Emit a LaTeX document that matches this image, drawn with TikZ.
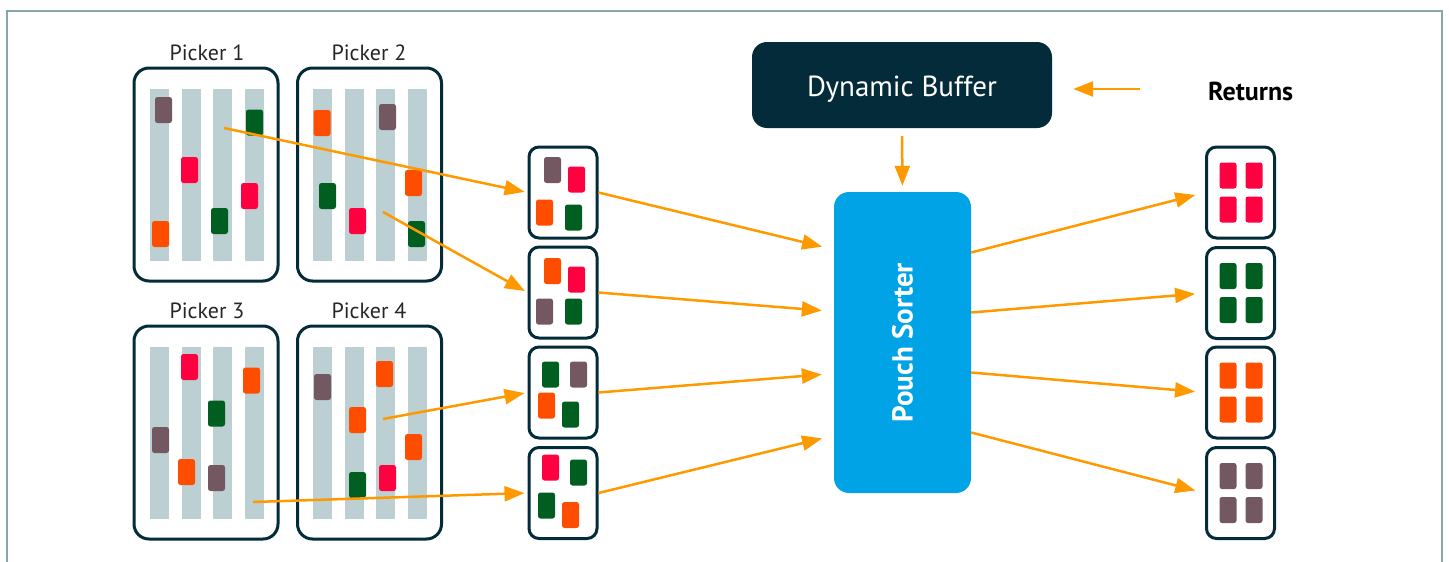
\documentclass[tikz,border=0pt]{standalone}
\usepackage{fontspec}
\setmainfont{PT Sans}
\usetikzlibrary{arrows.meta,calc}
\definecolor{navy}{HTML}{032B3A}
\definecolor{framec}{HTML}{86A6A8}
\definecolor{stripc}{HTML}{BCCFD3}
\definecolor{cred}{HTML}{FF0040}
\definecolor{cgreen}{HTML}{005F20}
\definecolor{corange}{HTML}{FF4D00}
\definecolor{cmauve}{HTML}{735761}
\definecolor{arrc}{HTML}{FF9900}
\definecolor{sortc}{HTML}{00A3E5}
\newcommand\itm[3]{\fill[#1,rounded corners=2.5pt] ({#2-8.5},{#3-13}) rectangle ++(17,26);}
\newcommand\strips[2]{\foreach \sx in {0,31.5,63,95}{\fill[stripc] ({#1+\sx},#2) rectangle ++(19,172);}}
\begin{document}
\begin{tikzpicture}[x=1pt,y=-1pt,
  picker/.style={draw=navy,line width=3pt,rounded corners=15pt,minimum width=144pt,minimum height=213pt,inner sep=0pt},
  pouch/.style={draw=navy,line width=3pt,rounded corners=10pt,minimum width=68pt,minimum height=91pt,inner sep=0pt},
  lbl/.style={font=\fontsize{22}{26}\selectfont,text=black!85},
  arr/.style={draw=arrc,line width=2.5pt,-{Triangle[length=20pt,width=15pt]}},
]
\useasboundingbox (0,0) rectangle (1449,562);
\draw[framec,line width=1.5pt] (7,562) -- (7,11) -- (1442,11) -- (1442,562);

% pickers
\node[picker] (p1) at (206,174.5) {};
\node[picker] (p2) at (369.5,174.5) {};
\node[picker] (p3) at (206,432.5) {};
\node[picker] (p4) at (369.5,432.5) {};
\node[lbl] (l1) at (207,53) {Picker 1};
\node[lbl] (l2) at (369,53) {Picker 2};
\node[lbl] (l3) at (207,311) {Picker 3};
\node[lbl] (l4) at (369,311) {Picker 4};

\strips{150}{89}\strips{313}{89}
\strips{150}{347}\strips{313}{347}

% picker 1 items
\itm{cmauve}{163.5}{110}
\itm{cgreen}{254.5}{122.5}
\itm{cred}{189.5}{170}
\itm{cred}{249.5}{196}
\itm{cgreen}{219.5}{221}
\itm{corange}{160.5}{234}
% picker 2
\itm{corange}{322}{123}
\itm{cmauve}{387.5}{117}
\itm{corange}{413.5}{183}
\itm{cgreen}{327.5}{196}
\itm{cred}{357.5}{221}
\itm{cgreen}{416.5}{234}
% picker 3
\itm{cred}{189.5}{367}
\itm{corange}{251.5}{380.5}
\itm{cgreen}{216.5}{413.5}
\itm{cmauve}{160.5}{440}
\itm{corange}{186.5}{472}
\itm{cmauve}{216.5}{478}
% picker 4
\itm{cmauve}{322.5}{387}
\itm{corange}{384.5}{374}
\itm{corange}{357.5}{420}
\itm{corange}{413.5}{447}
\itm{cgreen}{357.5}{485}
\itm{cred}{387.5}{478}

% pouches
\node[pouch] (q1) at (563,192.5) {};
\node[pouch] (q2) at (563,292.5) {};
\node[pouch] (q3) at (563,392.5) {};
\node[pouch] (q4) at (563,493) {};
\begin{scope}[shift={(563,192.5)}]
\itm{cmauve}{-10.5}{-22.5}\itm{cred}{13.5}{-13}\itm{corange}{-18.5}{20}\itm{cgreen}{10.5}{25}
\end{scope}
\begin{scope}[shift={(563,292.5)}]
\itm{corange}{-10.5}{-21.5}\itm{cred}{13.5}{-13}\itm{cmauve}{-18.5}{19}\itm{cgreen}{10.5}{19}
\end{scope}
\begin{scope}[shift={(563,392.5)}]
\itm{cgreen}{-12.5}{-18}\itm{cmauve}{15.5}{-18}\itm{corange}{-16.5}{13}\itm{cgreen}{7.5}{22}
\end{scope}
\begin{scope}[shift={(563,493)}]
\itm{cred}{-12.5}{-25.5}\itm{cgreen}{15.5}{-20.5}\itm{cgreen}{-16.5}{12.5}\itm{corange}{7.5}{22}
\end{scope}

% result boxes
\node[pouch] (r1) at (1240.5,192.5) {};
\node[pouch] (r2) at (1240.5,293) {};
\node[pouch] (r3) at (1240.5,392.5) {};
\node[pouch] (r4) at (1240.5,493) {};
\foreach \c/\yy in {cred/192.5,cgreen/293,corange/392.5,cmauve/493}{
  \begin{scope}[shift={(1240.5,\yy)}]
  \itm{\c}{-12.5}{-17}\itm{\c}{13.5}{-17}\itm{\c}{-12.5}{17}\itm{\c}{13.5}{17}
  \end{scope}
}

% sorter and buffer
\node[fill=sortc,rounded corners=15pt,minimum width=137pt,minimum height=301pt,inner sep=0pt] (sorter) at (902.5,342.5) {};
\node[rotate=90,text=white,font=\fontsize{29}{34}\selectfont\bfseries] (sl) at (sorter.center) {Pouch Sorter};
\node[fill=navy,rounded corners=15pt,minimum width=300pt,minimum height=86pt,inner sep=0pt] (buf) at (902,85) {};
\node[text=white,font=\fontsize{29}{34}\selectfont,anchor=base,inner sep=0pt] (bt) at (902,96) {Dynamic Buffer};
\node[font=\fontsize{26}{30}\selectfont\bfseries,anchor=base west,inner sep=0pt] (ret) at (1208,100) {Returns};

% arrows pickers -> pouches
\coordinate (a1) at (224,128);
\coordinate (a2) at (383,212);
\coordinate (a3) at (383,419);
\coordinate (a4) at (253,502);
\draw[arr,shorten >=3pt] (a1) -- (q1.west);
\draw[arr,shorten >=3pt] (a2) -- (q2.west);
\draw[arr,shorten >=3pt] (a3) -- (q3.west);
\draw[arr,shorten >=3pt] (a4) -- (q4.west);

% pouches -> sorter
\coordinate (s1) at ($(sorter.west)+(0,-93)$);
\coordinate (s2) at ($(sorter.west)+(0,-31)$);
\coordinate (s3) at ($(sorter.west)+(0,31)$);
\coordinate (s4) at ($(sorter.west)+(0,93)$);
\draw[arr,shorten >=12pt] (q1.east) -- (s1);
\draw[arr,shorten >=12pt] (q2.east) -- (s2);
\draw[arr,shorten >=12pt] (q3.east) -- (s3);
\draw[arr,shorten >=12pt] (q4.east) -- (s4);

% sorter -> results
\coordinate (t1) at ($(sorter.east)+(0,-90)$);
\coordinate (t2) at ($(sorter.east)+(0,-30)$);
\coordinate (t3) at ($(sorter.east)+(0,30)$);
\coordinate (t4) at ($(sorter.east)+(0,90)$);
\draw[arr,shorten >=10pt] (t1) -- (r1.west);
\draw[arr,shorten >=10pt] (t2) -- (r2.west);
\draw[arr,shorten >=10pt] (t3) -- (r3.west);
\draw[arr,shorten >=10pt] (t4) -- (r4.west);

% buffer -> sorter, returns -> buffer
\draw[arr,shorten <=8pt,shorten >=6pt] (buf.south) -- (sorter.north);
\coordinate (rs) at (1140,89);
\draw[arr,shorten >=21pt] (rs) -- (rs -| buf.east);
\end{tikzpicture}
\end{document}
